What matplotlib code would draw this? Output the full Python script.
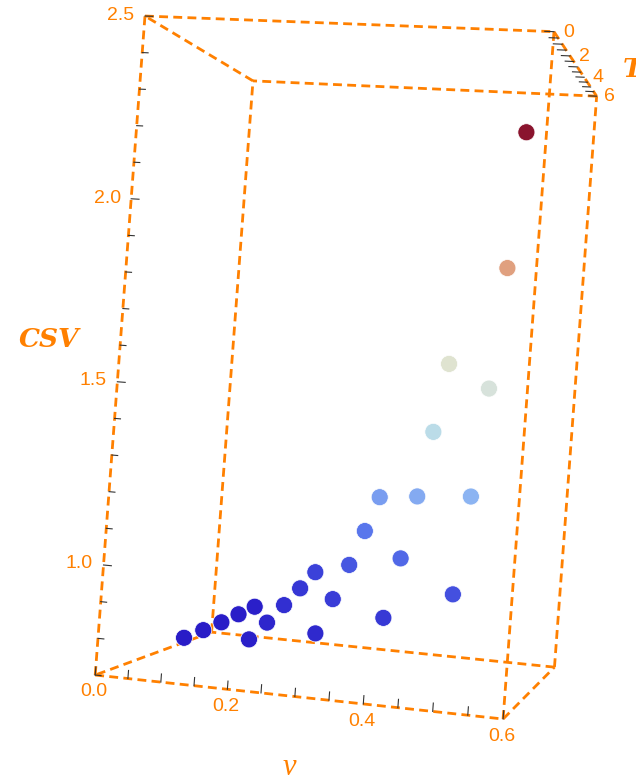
import numpy as np
import matplotlib
matplotlib.use('Agg')
import matplotlib.pyplot as plt
from matplotlib.colors import LinearSegmentedColormap

# data: CSV over a grid of v and T
v_vals = [0.1, 0.2, 0.3, 0.4, 0.5]
T_vals = [1, 2, 3, 4, 5]
csv_vals = [[0.800, 0.802, 0.806, 0.812, 0.818],
            [0.814, 0.842, 0.875, 0.909, 0.944],
            [0.849, 0.927, 1.011, 1.100, 1.195],
            [0.910, 1.060, 1.228, 1.415, 1.624],
            [0.992, 1.251, 1.557, 1.920, 2.352]]

v_ticks = [0.0, 0.2, 0.4, 0.6]
T_ticks = [0, 2, 4, 6]
csv_ticks = [1.0, 1.5, 2.0, 2.5]

v_lim = (0.0, 0.6)
T_lim = (0.0, 6.0)
csv_lim = (0.7, 2.5)

orange = (1.0, 0.5, 0.0)
tick_col = (0.2, 0.2, 0.2)

temp_map = LinearSegmentedColormap.from_list('temp', [
    (0.00, (0.16, 0.11, 0.78)),
    (0.10, (0.24, 0.27, 0.86)),
    (0.20, (0.36, 0.48, 0.93)),
    (0.30, (0.57, 0.73, 0.95)),
    (0.40, (0.74, 0.87, 0.91)),
    (0.50, (0.86, 0.89, 0.85)),
    (0.56, (0.89, 0.89, 0.78)),
    (0.72, (0.88, 0.63, 0.50)),
    (0.86, (0.76, 0.33, 0.29)),
    (1.00, (0.54, 0.08, 0.18))])

fig = plt.figure(figsize=(6.36, 7.76), dpi=100)
ax = fig.add_axes([-0.070132, 0.003437, 1.251624, 1.025816], projection='3d',
                  computed_zorder=False)
ax.set_xlim(*v_lim)
ax.set_ylim(*T_lim)
ax.set_zlim(*csv_lim)
ax.view_init(-0.4242, -77.9727, -4.2691)
ax.set_proj_type('persp', focal_length=0.4848)
ax.set_box_aspect((0.6231, 0.6308, 1))
ax.set_axis_off()

# box
dash = (0, (3.2, 1.9))
x0, x1 = v_lim
y0, y1 = T_lim
z0, z1 = csv_lim
edges = [((x0, x1), (y0, y0), (z0, z0)), ((x1, x1), (y0, y1), (z0, z0)),
         ((x1, x0), (y1, y1), (z0, z0)), ((x0, x0), (y1, y0), (z0, z0)),
         ((x0, x1), (y0, y0), (z1, z1)), ((x1, x1), (y0, y1), (z1, z1)),
         ((x1, x0), (y1, y1), (z1, z1)), ((x0, x0), (y1, y0), (z1, z1)),
         ((x0, x0), (y0, y0), (z0, z1)), ((x1, x1), (y0, y0), (z0, z1)),
         ((x1, x1), (y1, y1), (z0, z1)), ((x0, x0), (y1, y1), (z0, z1))]
for ex, ey, ez in edges:
    ax.plot(ex, ey, ez, color=orange, lw=2.0, ls=dash, zorder=1)

# ticks
for z in np.arange(0.7, 2.501, 0.1):
    ln = 0.012 if abs(z * 2 - round(z * 2)) < 1e-6 else 0.009
    ax.plot([x0, x0 + ln], [y0, y0], [z, z], color=tick_col, lw=0.8, zorder=2)
for v in np.arange(0.0, 0.601, 0.05):
    ax.plot([v, v], [y0, y0], [z0, z0 + 0.022], color=tick_col, lw=0.8, zorder=2)
for t in np.arange(0.0, 6.01, 0.5):
    ax.plot([x1, x1 - 0.013], [t, t], [z1, z1], color=tick_col, lw=0.8, zorder=2)

for z in csv_ticks:
    ax.text(x0 - 0.016, y0, z, '%.1f' % z, color=orange, fontsize=14,
            family='Liberation Sans', ha='right', va='center')
for v in v_ticks:
    ax.text(v, y0, z0 - 0.046, '%.1f' % v, color=orange, fontsize=14,
            family='Liberation Sans', ha='center', va='center')
for t in T_ticks:
    ax.text(x1 + 0.013, t, z1, '%d' % t, color=orange, fontsize=14,
            family='Liberation Sans', ha='left', va='center')

ax.text(x0 - 0.11, y0, 1.6, 'CSV', color=orange, fontsize=19,
        family='DejaVu Serif', weight='bold', style='italic', ha='center', va='center')
ax.text(0.3, y0, 0.51, 'ν', color=orange, fontsize=22,
        family='Liberation Serif', style='italic', ha='center', va='center')
ax.text(x1 + 0.085, 3, z1, 'T', color=orange, fontsize=19,
        family='DejaVu Serif', weight='bold', style='italic', ha='center', va='center')

# points
vv, tt, cc = [], [], []
for i, v in enumerate(v_vals):
    for j, t in enumerate(T_vals):
        vv.append(v)
        tt.append(t)
        cc.append(csv_vals[i][j])
cc = np.array(cc)
cols = temp_map((cc - cc.min()) / (cc.max() - cc.min()))
ax.scatter(vv, tt, cc, c=cols, s=150, depthshade=False, edgecolors='white',
           linewidths=0.5, zorder=3)

fig.savefig('out.png')
